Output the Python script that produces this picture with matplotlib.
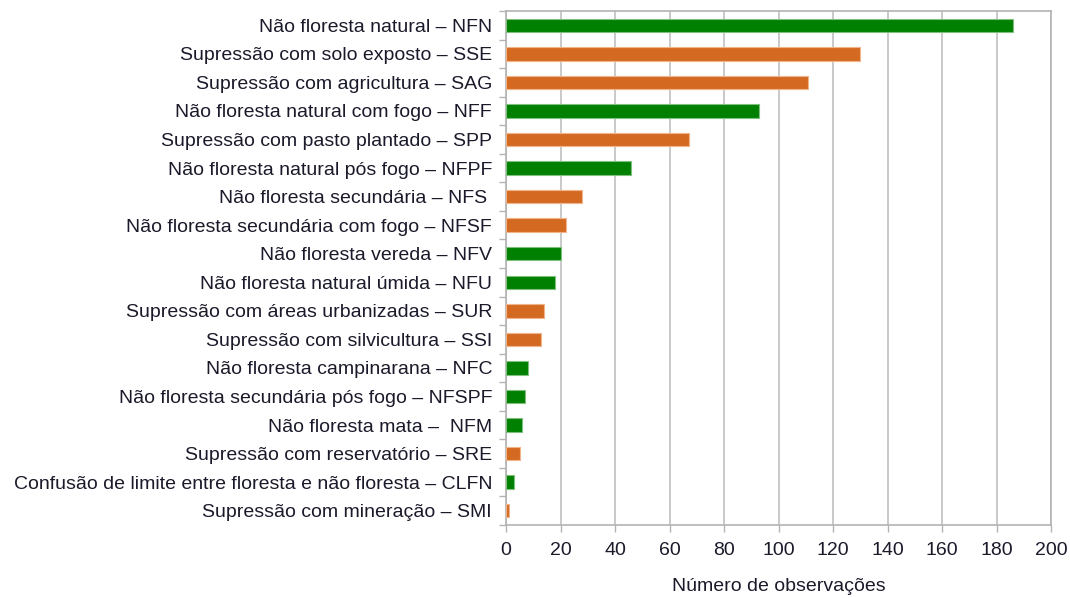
import matplotlib.pyplot as plt
import numpy as np

plt.rcParams['font.family'] = ['Liberation Sans', 'DejaVu Sans']

# categories, top to bottom
labels = [
    "Não floresta natural – NFN",
    "Supressão com solo exposto – SSE",
    "Supressão com agricultura – SAG",
    "Não floresta natural com fogo – NFF",
    "Supressão com pasto plantado – SPP",
    "Não floresta natural pós fogo – NFPF",
    "Não floresta secundária – NFS ",
    "Não floresta secundária com fogo – NFSF",
    "Não floresta vereda – NFV",
    "Não floresta natural úmida – NFU",
    "Supressão com áreas urbanizadas – SUR",
    "Supressão com silvicultura – SSI",
    "Não floresta campinarana – NFC",
    "Não floresta secundária pós fogo – NFSPF",
    "Não floresta mata –  NFM",
    "Supressão com reservatório – SRE",
    "Confusão de limite entre floresta e não floresta – CLFN",
    "Supressão com mineração – SMI",
]
counts = [186, 130, 111, 93, 67, 46, 28, 22, 20, 18, 14, 13, 8, 7, 6, 5, 3, 1]
# N = não floresta (green), S = supressão (orange)
groups = ["N", "S", "S", "N", "S", "N", "S", "S", "N", "N", "S", "S", "N", "N", "N", "S", "N", "S"]

palette = {"N": "#008000", "S": "#d46a22"}
edges = {"N": "#7fc07f", "S": "#f0b48c"}
colors = [palette[g] for g in groups]
edgecolors = [edges[g] for g in groups]

fig = plt.figure(figsize=(10.70, 5.98), dpi=100)
ax = fig.add_axes([506 / 1070, 1 - 525 / 598, 545 / 1070, 514 / 598])

y = np.arange(len(labels))
ax.barh(y, counts, height=0.47, color=colors, edgecolor=edgecolors, linewidth=0.8, zorder=3)

ax.set_xlim(0, 200)
ax.set_ylim(len(labels) - 0.5, -0.5)
ax.set_xticks(np.arange(0, 201, 20))
ax.set_yticks(y)
ax.set_yticklabels(labels)
ax.set_yticks(np.arange(-0.5, len(labels), 1), minor=True)

txt = '#1a1a2a'
ax.tick_params(axis='y', which='major', length=0, pad=10, labelsize=14, labelcolor=txt)
ax.tick_params(axis='y', which='minor', length=5, color='#b3b3b3', width=1)
ax.tick_params(axis='x', length=5, color='#b3b3b3', width=1, labelsize=14, labelcolor=txt, pad=7)

ax.grid(axis='x', color='#c0c0c0', linewidth=1.2, zorder=0)
for s in ax.spines.values():
    s.set_color('#b3b3b3')
    s.set_linewidth(1.2)

ax.set_xlabel("Número de observações", fontsize=14, color=txt, labelpad=14)

fig.savefig("out.png", dpi=100)
